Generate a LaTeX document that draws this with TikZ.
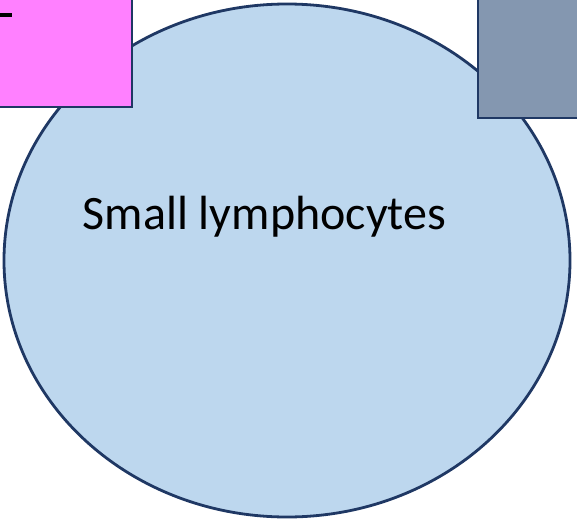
\documentclass[tikz,border=0pt]{standalone}
\usepackage{fontspec}
\setmainfont{Carlito}
\definecolor{navy}{HTML}{1F3864}
\definecolor{cellblue}{HTML}{BDD7EE}
\definecolor{pinkbox}{HTML}{FF80FF}
\definecolor{graybox}{HTML}{8497B0}
\begin{document}
\begin{tikzpicture}[x=1pt,y=-1pt,
  outline/.style={draw=navy,line width=2.8pt}]
\useasboundingbox (0,0) rectangle (577,519);
\clip (0,0) rectangle (577,519);
\fill[white] (0,0) rectangle (577,519);
\draw[outline,fill=cellblue] (287,260.5) ellipse [x radius=283, y radius=256.5];
\node[anchor=base,inner sep=0pt,font=\fontsize{48}{56}\selectfont] (lbl) at (264.5,229) {Small lymphocytes};
\draw[outline,fill=pinkbox] (-5,-5) rectangle (132,107);
\fill[black] (-1,13) rectangle (12,17.5);
\draw[outline,fill=graybox] (478,-5) rectangle (585,118);
\end{tikzpicture}
\end{document}
